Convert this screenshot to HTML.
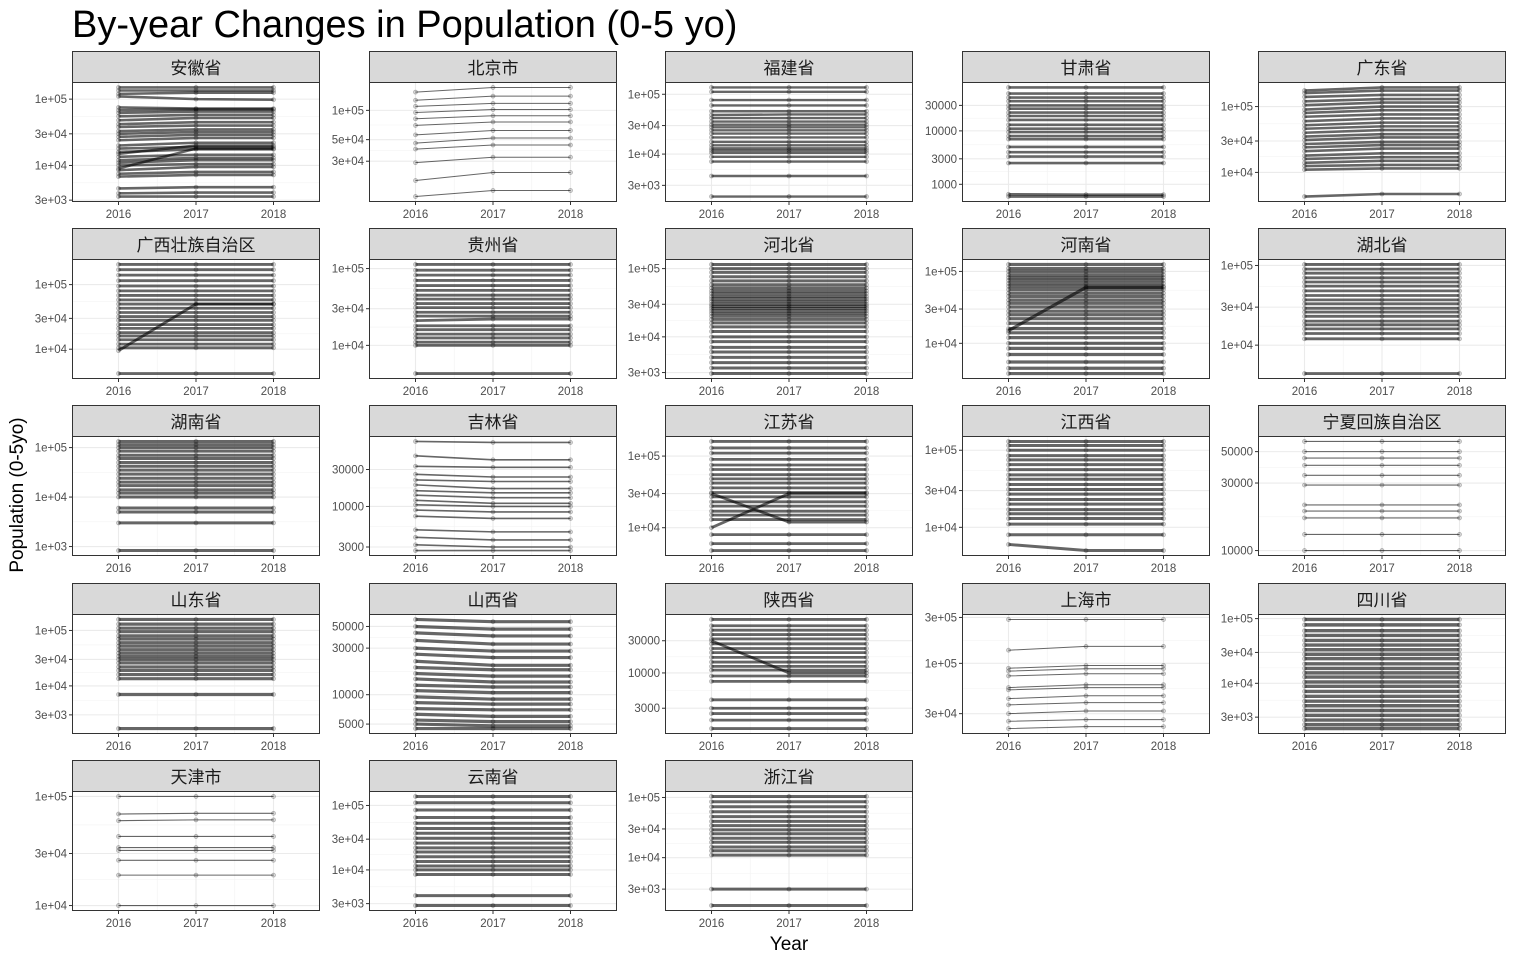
<!DOCTYPE html>
<html><head><meta charset="utf-8">
<style>
body{margin:0;background:#fff;}
svg{display:block;font-family:"Liberation Sans","Noto Sans CJK SC",sans-serif;}
</style></head>
<body>
<svg id="c" width="1514" height="961" viewBox="0 0 1514 961">
<text x="72" y="37" font-size="38" fill="#000">By-year Changes in Population (0-5 yo)</text>
<text transform="translate(23,495) rotate(-90)" text-anchor="middle" font-size="19" fill="#000">Population (0-5yo)</text>
<text x="789" y="950" text-anchor="middle" font-size="19" fill="#000">Year</text>
</svg>
<script>
const years=[2016,2017,2018];
const provinces=["安徽省","北京市","福建省","甘肃省","广东省","广西壮族自治区","贵州省","河北省","河南省","湖北省","湖南省","吉林省","江苏省","江西省","宁夏回族自治区","山东省","山西省","陕西省","上海市","四川省","天津市","云南省","浙江省"];
const tickLabels=[
["1e+05","3e+04","1e+04","3e+03"],["1e+05","5e+04","3e+04"],["1e+05","3e+04","1e+04","3e+03"],["30000","10000","3000","1000"],["1e+05","3e+04","1e+04"],
["1e+05","3e+04","1e+04"],["1e+05","3e+04","1e+04"],["1e+05","3e+04","1e+04","3e+03"],["1e+05","3e+04","1e+04"],["1e+05","3e+04","1e+04"],
["1e+05","1e+04","1e+03"],["30000","10000","3000"],["1e+05","3e+04","1e+04"],["1e+05","3e+04","1e+04"],["50000","30000","10000"],
["1e+05","3e+04","1e+04","3e+03"],["50000","30000","10000","5000"],["30000","10000","3000"],["3e+05","1e+05","3e+04"],["1e+05","3e+04","1e+04","3e+03"],
["1e+05","3e+04","1e+04"],["1e+05","3e+04","1e+04","3e+03"],["1e+05","3e+04","1e+04","3e+03"]];
const tickValues=[
[1e5,3e4,1e4,3e3],[1e5,5e4,3e4],[1e5,3e4,1e4,3e3],[30000,10000,3000,1000],[1e5,3e4,1e4],
[1e5,3e4,1e4],[1e5,3e4,1e4],[1e5,3e4,1e4,3e3],[1e5,3e4,1e4],[1e5,3e4,1e4],
[1e5,1e4,1e3],[30000,10000,3000],[1e5,3e4,1e4],[1e5,3e4,1e4],[50000,30000,10000],
[1e5,3e4,1e4,3e3],[50000,30000,10000,5000],[30000,10000,3000],[3e5,1e5,3e4],[1e5,3e4,1e4,3e3],
[1e5,3e4,1e4],[1e5,3e4,1e4,3e3],[1e5,3e4,1e4,3e3]];
const sAnhui=[[150000,150000,150000],[135000,135000,135000],[120000,125000,125000],[110000,100000,98000],[75000,72000,72000],[68000,70000,70000],[62000,65000,65000],[55000,58000,58000],[48000,52000,52000],[42000,45000,45000],[38000,40000,40000],[33000,35000,35000],[30000,32000,32000],[27000,29000,29000],[24000,26000,26000],[20000,22000,22000],[18000,19000,19000],[16000,17500,17500],[15000,20000,20000],[13500,14500,14500],[12000,13000,13000],[11000,12000,12000],[10000,10500,10500],[9000,18000,18000],[8500,9500,9500],[7500,8000,8000],[6800,7200,7200],[4500,4700,4700],[3800,3900,3900],[3400,3400,3400]];
const sBeijing=[[154000,172000,172000],[127000,140000,140000],[110000,118000,118000],[95000,102000,102000],[82000,88000,88000],[70000,76000,76000],[56000,62000,62000],[46000,52000,52000],[40000,44000,44000],[29000,33000,33000],[19000,23000,23000],[13000,15000,15000]];
const sFujian=[[130000,130000,130000],[110000,110000,110000],[80000,80000,80000],[65000,65000,65000],[52000,52000,52000],[45000,46000,46000],[40000,40000,40000],[35000,35000,35000],[31000,31000,31000],[28000,28000,28000],[25000,25000,25000],[22000,22000,22000],[19000,19000,19000],[16000,16000,16000],[14000,14000,14000],[12500,12500,12500],[11500,11500,11500],[10500,10500,10500],[9000,9000,9000],[7500,7500,7500],[4300,4300,4300],[1950,1950,1950]];
const sGansu=[[65000,65000,65000],[50000,50000,50000],[42000,42000,42000],[36000,36000,36000],[30000,30000,30000],[26000,26000,26000],[22000,22000,22000],[19000,19000,19000],[16000,16000,16000],[13000,13000,13000],[11000,11000,11000],[9500,9500,9500],[8000,8000,8000],[7000,7000,7000],[5000,5000,5000],[4000,4000,4000],[3300,3300,3300],[2500,2500,2500],[650,640,640],[590,590,590]];
const sGuangdong=[[175000,195000,195000],[160000,175000,175000],[140000,150000,150000],[120000,130000,130000],[105000,115000,115000],[90000,100000,100000],[80000,88000,88000],[70000,76000,76000],[60000,66000,66000],[52000,57000,57000],[46000,50000,50000],[40000,44000,44000],[35000,38000,38000],[31000,34000,34000],[27000,29000,29000],[24000,26000,26000],[21000,23000,23000],[18000,19500,19500],[16000,17000,17000],[14000,15000,15000],[12500,13000,13000],[11000,11500,11500],[4300,4700,4700]];
const sGuangxi=[[205000,205000,205000],[170000,170000,170000],[140000,140000,140000],[115000,115000,115000],[95000,95000,95000],[80000,80000,80000],[68000,68000,68000],[58000,58000,58000],[50000,50000,50000],[43000,43000,43000],[37000,37000,37000],[32000,32000,32000],[28000,28000,28000],[24000,24000,24000],[21000,21000,21000],[18000,18000,18000],[16000,16000,16000],[14000,14000,14000],[12000,12000,12000],[10500,10500,10500],[9500,50000,50000],[4200,4200,4200]];
const sGuizhou=[[113000,113000,113000],[95000,95000,95000],[82000,82000,82000],[70000,70000,70000],[60000,60000,60000],[52000,52000,52000],[45000,45000,45000],[40000,40000,40000],[35000,35000,35000],[31000,31000,31000],[27000,27000,27000],[24000,24000,24000],[21000,22000,22000],[18000,18000,18000],[16000,16000,16000],[14000,14000,14000],[12500,12500,12500],[11000,11000,11000],[10000,10000,10000],[4300,4300,4300]];
const sHebei=[[115000,115000,115000],[100000,100000,100000],[88000,88000,88000],[76000,76000,76000],[66000,66000,66000],[58000,58000,58000],[52000,52000,52000],[47000,47000,47000],[43000,43000,43000],[39000,39000,39000],[36000,36000,36000],[33000,33000,33000],[30000,30000,30000],[28000,28000,28000],[26000,26000,26000],[24000,24000,24000],[22000,22000,22000],[20000,20000,20000],[18000,18000,18000],[16000,16000,16000],[14000,14000,14000],[12000,12000,12000],[10000,10000,10000],[8500,8500,8500],[7000,7000,7000],[6000,6000,6000],[5000,5000,5000],[4200,4200,4200],[3500,3500,3500],[2900,2900,2900]];
const sHenan=[[125000,125000,125000],[110000,110000,110000],[100000,100000,100000],[90000,90000,90000],[82000,82000,82000],[75000,75000,75000],[68000,68000,68000],[62000,62000,62000],[56000,56000,56000],[50000,50000,50000],[45000,45000,45000],[40000,40000,40000],[36000,36000,36000],[32000,32000,32000],[28000,28000,28000],[25000,25000,25000],[22000,22000,22000],[19000,19000,19000],[16000,16000,16000],[14000,14000,14000],[12000,12000,12000],[10000,10000,10000],[8500,8500,8500],[7000,7000,7000],[5500,5500,5500],[4500,4500,4500],[3800,3800,3800],[15000,60000,60000]];
const sHubei=[[103000,103000,103000],[90000,90000,90000],[80000,80000,80000],[70000,70000,70000],[62000,62000,62000],[55000,55000,55000],[48000,48000,48000],[42000,42000,42000],[37000,37000,37000],[33000,33000,33000],[29000,29000,29000],[26000,26000,26000],[23000,23000,23000],[20000,20000,20000],[18000,18000,18000],[16000,16000,16000],[14000,14000,14000],[12000,12000,12000],[4400,4400,4400]];
const sHunan=[[133000,133000,133000],[115000,115000,115000],[100000,100000,100000],[85000,85000,85000],[70000,70000,70000],[60000,60000,60000],[50000,50000,50000],[42000,42000,42000],[35000,35000,35000],[29000,29000,29000],[24000,24000,24000],[20000,20000,20000],[17000,17000,17000],[14000,14000,14000],[12000,12000,12000],[10000,10000,10000],[6000,6000,6000],[5000,5000,5000],[3000,3000,3000],[830,830,830]];
const sJilin=[[69000,67000,67000],[45000,40000,40000],[33000,32000,32000],[26000,24000,24000],[22000,21000,21000],[19000,17000,17000],[16000,15000,15000],[14000,13000,13000],[12000,11000,11000],[10500,10000,10000],[9000,8500,8500],[7500,7000,7000],[5000,4700,4700],[4000,3700,3700],[3200,3000,3000],[2700,2700,2700]];
const sJiangsu=[[160000,160000,160000],[130000,130000,130000],[110000,110000,110000],[90000,90000,90000],[75000,75000,75000],[65000,65000,65000],[55000,55000,55000],[48000,48000,48000],[42000,42000,42000],[36000,36000,36000],[31000,31000,31000],[27000,27000,27000],[23000,23000,23000],[20000,20000,20000],[17000,17000,17000],[15000,15000,15000],[13000,13000,13000],[10000,30000,30000],[30000,12000,12000],[8000,8000,8000],[6000,6000,6000],[4800,4800,4800]];
const sJiangxi=[[130000,130000,130000],[115000,115000,115000],[100000,100000,100000],[85000,85000,85000],[75000,75000,75000],[65000,65000,65000],[56000,56000,56000],[48000,48000,48000],[42000,42000,42000],[36000,36000,36000],[31000,31000,31000],[27000,27000,27000],[23000,23000,23000],[20000,20000,20000],[17000,17000,17000],[15000,15000,15000],[13000,13000,13000],[11000,11000,11000],[8000,8000,8000],[6000,5000,5000]];
const sNingxia=[[59000,59000,59000],[50000,50000,50000],[45000,45000,45000],[40000,40000,40000],[34000,34000,34000],[29000,29000,29000],[21000,21000,21000],[19000,19000,19000],[17000,17000,17000],[13000,13000,13000],[10000,10000,10000]];
const sShandong=[[158000,158000,158000],[130000,130000,130000],[110000,110000,110000],[95000,95000,95000],[80000,80000,80000],[70000,70000,70000],[60000,60000,60000],[52000,52000,52000],[45000,45000,45000],[39000,39000,39000],[34000,34000,34000],[30000,30000,30000],[26000,26000,26000],[22000,22000,22000],[19000,19000,19000],[16000,16000,16000],[13500,13500,13500],[7000,7000,7000],[1700,1700,1700]];
const sShanxi=[[59000,56000,56000],[50000,47000,47000],[43000,40000,40000],[36000,33000,33000],[30000,28000,28000],[26000,24000,24000],[22000,20000,20000],[19000,18000,18000],[16500,15500,15500],[14500,13500,13500],[12500,12000,12000],[11000,10500,10500],[9500,9000,9000],[8300,8000,8000],[7200,7000,7000],[6300,6000,6000],[5500,5300,5300],[5000,4800,4800],[4500,4500,4500]];
const sShaanxi=[[62000,62000,62000],[50000,50000,50000],[43000,43000,43000],[37000,37000,37000],[32000,32000,32000],[30000,10000,10000],[27000,27000,27000],[23000,23000,23000],[20000,20000,20000],[17000,17000,17000],[14500,14500,14500],[12500,12500,12500],[11000,11000,11000],[9000,9000,9000],[7500,7500,7500],[4000,4000,4000],[3000,3000,3000],[2500,2500,2500],[2000,2000,2000],[1500,1500,1500]];
const sShanghai=[[286000,286000,286000],[137000,150000,150000],[89000,95000,95000],[83000,88000,88000],[74000,78000,78000],[56000,60000,60000],[53000,56000,56000],[43000,46000,46000],[37000,39000,39000],[30000,32000,32000],[25000,26000,26000],[21000,22000,22000]];
const sSichuan=[[97000,97000,97000],[80000,80000,80000],[65000,65000,65000],[55000,55000,55000],[46000,46000,46000],[39000,39000,39000],[33000,33000,33000],[28000,28000,28000],[24000,24000,24000],[20000,20000,20000],[17000,17000,17000],[14500,14500,14500],[12500,12500,12500],[10500,10500,10500],[9000,9000,9000],[7500,7500,7500],[6300,6300,6300],[5300,5300,5300],[4500,4500,4500],[3800,3800,3800],[3200,3200,3200],[2700,2700,2700],[2300,2300,2300],[2000,2000,2000]];
const sTianjin=[[100000,100000,100000],[69000,70000,70000],[60000,61000,61000],[43000,43000,43000],[34000,34000,34000],[32000,32000,32000],[26000,26000,26000],[19000,19000,19000],[10000,10000,10000]];
const sYunnan=[[138000,138000,138000],[110000,110000,110000],[85000,85000,85000],[65000,65000,65000],[53000,53000,53000],[44000,44000,44000],[37000,37000,37000],[31000,31000,31000],[26000,26000,26000],[22000,22000,22000],[19000,19000,19000],[16000,16000,16000],[13500,13500,13500],[11500,11500,11500],[10000,10000,10000],[8500,8500,8500],[4000,4000,4000],[2800,2800,2800]];
const sZhejiang=[[104000,104000,104000],[85000,85000,85000],[70000,70000,70000],[58000,58000,58000],[48000,48000,48000],[40000,40000,40000],[34000,34000,34000],[29000,29000,29000],[25000,25000,25000],[21000,21000,21000],[18000,18000,18000],[15000,15000,15000],[13000,13000,13000],[11000,11000,11000],[3000,3000,3000],[1600,1600,1600]];
const seriesByProvince=[sAnhui,sBeijing,sFujian,sGansu,sGuangdong,sGuangxi,sGuizhou,sHebei,sHenan,sHubei,sHunan,sJilin,sJiangsu,sJiangxi,sNingxia,sShandong,sShanxi,sShaanxi,sShanghai,sSichuan,sTianjin,sYunnan,sZhejiang];

// layout (style only)
const colLeft=[72,369,665,962,1258];
const rowTop=[51,228,405,583,760];
const PW=248, STRIP=31, PH=120;
const denseWidth=[2.6,1,2.4,2.6,2.6,2.8,2.8,3,3.2,2.8,3,1.6,2.8,3,1.1,3.2,3.2,2.8,1,3.4,1.1,3,3];
const NS="http://www.w3.org/2000/svg";
const svg=document.getElementById('c');
function mk(tag,attrs,parent){const e=document.createElementNS(NS,tag);for(const k in attrs)e.setAttribute(k,attrs[k]);(parent||svg).appendChild(e);return e;}

provinces.forEach((name,i)=>{
  const col=i%5,row=Math.floor(i/5);
  const L=colLeft[col],T=rowTop[row];
  const pt=T+STRIP,pb=pt+PH;
  const g=mk('g',{});
  
  
  const data=seriesByProvince[i];
  let lo=Infinity,hi=-Infinity;
  data.forEach(s=>s.forEach(v=>{const l=Math.log10(v);if(l<lo)lo=l;if(l>hi)hi=l;}));
  const pad=(hi-lo)*0.05;
  const d0=lo-pad,d1=hi+pad;
  const y=v=>pb-(Math.log10(v)-d0)/(d1-d0)*PH;
  const xd0=2016-0.6,xd1=2018+0.6;
  const x=yr=>L+(yr-xd0)/(xd1-xd0)*PW;
  mk('rect',{x:L,y:pt,width:PW,height:PH,fill:'#fff'},g);
  const tv=tickValues[i].slice().sort((a,b)=>a-b);
  for(let k=0;k<tv.length-1;k++){
    const m=Math.pow(10,(Math.log10(tv[k])+Math.log10(tv[k+1]))/2);
    const gy=y(m);
    if(gy>pt&&gy<pb){const ln=mk('line',{x1:L,x2:L+PW,y1:gy,y2:gy,stroke:'#f3f3f3','stroke-width':0.6},g);
    }
  }
  [2016.5,2017.5].forEach(yr=>{mk('line',{x1:x(yr),x2:x(yr),y1:pt,y2:pb,stroke:'#f3f3f3','stroke-width':0.6},g);});
  tickValues[i].forEach((tvv,k)=>{
    const gy=y(tvv);
    const ln=mk('line',{x1:L,x2:L+PW,y1:gy,y2:gy,stroke:'#ebebeb','stroke-width':1.1},g);
    
    
    mk('line',{x1:L-3,x2:L,y1:gy,y2:gy,stroke:'#333','stroke-width':1},g);
    const t=mk('text',{x:L-5,y:gy+4,'text-anchor':'end','font-size':11.5,fill:'#4d4d4d'},g);
    t.textContent=tickLabels[i][k];
    
    
  });
  years.forEach(yr=>{
    const gx=x(yr);
    mk('line',{x1:gx,x2:gx,y1:pt,y2:pb,stroke:'#ebebeb','stroke-width':1.1},g);
    mk('line',{x1:gx,x2:gx,y1:pb,y2:pb+3,stroke:'#333','stroke-width':1},g);
    const t=mk('text',{x:gx,y:pb+16,'text-anchor':'middle','font-size':11.5,fill:'#4d4d4d'},g);
    t.textContent=yr;
    
    
  });
  data.forEach(s=>{
    const p=mk('polyline',{points:s.map((v,k)=>x(years[k])+','+y(v)).join(' '),fill:'none',stroke:'#000','stroke-opacity':0.6,'stroke-width':denseWidth[i]},g);
    
    
    s.forEach((v,k)=>{
      const c=mk('circle',{cx:x(years[k]),cy:y(v),r:2,fill:'#000','fill-opacity':0.15,stroke:'#000','stroke-opacity':0.25,'stroke-width':0.8},g);
      
      
    });
  });
  mk('rect',{x:L+0.5,y:pt+0.5,width:PW-1,height:PH-1,fill:'none',stroke:'#333','stroke-width':1},g);
  const st=mk('rect',{x:L+0.5,y:T+0.5,width:PW-1,height:STRIP,fill:'#d9d9d9',stroke:'#333','stroke-width':1},g);
  
  
  const tt=mk('text',{x:L+PW/2,y:T+23,'text-anchor':'middle','font-size':17,fill:'#1a1a1a'},g);
  tt.textContent=name;
  
  
});
</script>
</body></html>
